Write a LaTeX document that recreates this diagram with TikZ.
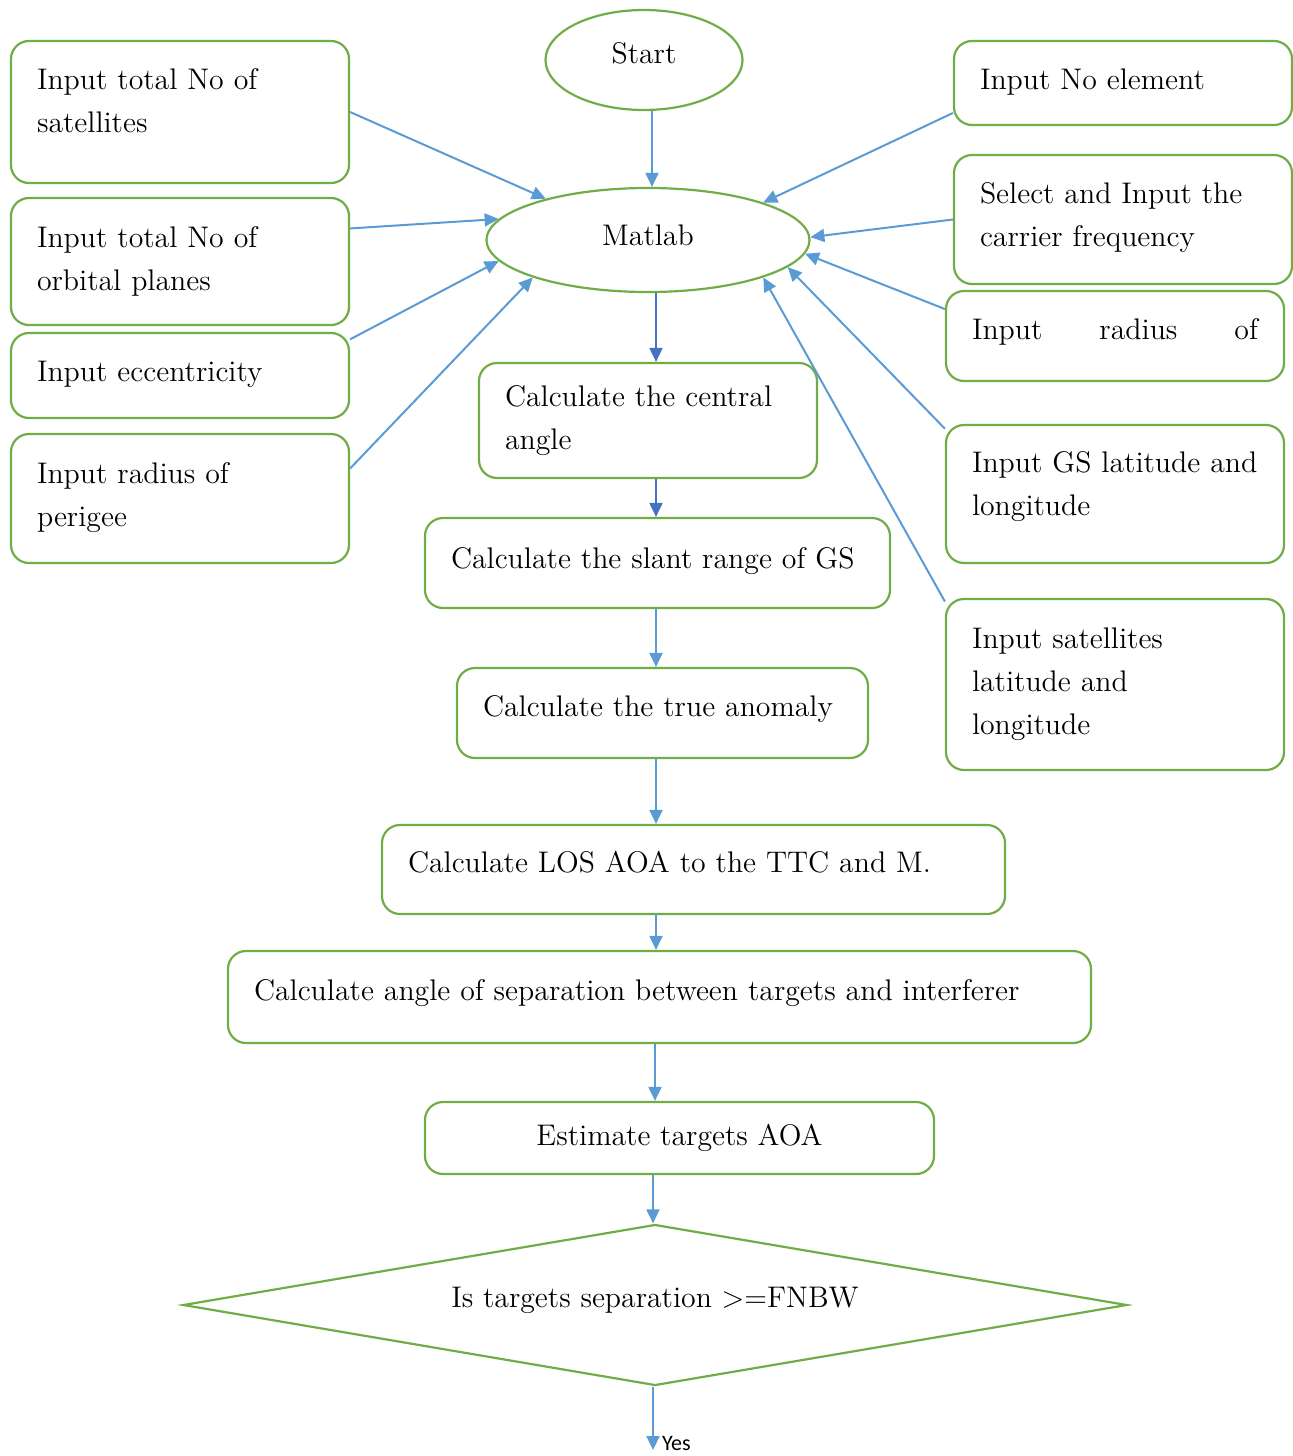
\documentclass[tikz,border=0pt]{standalone}
\usepackage{fontspec}
\newfontfamily\calibrifont{Carlito}
\usetikzlibrary{arrows.meta,shapes.geometric}

\definecolor{boxgreen}{RGB}{112,173,71}
\definecolor{arrowblue}{RGB}{91,155,213}
\definecolor{darkblue}{RGB}{68,114,196}

\begin{document}
\begin{tikzpicture}[
    x=0.5pt, y=-0.5pt,
    font=\fontsize{14.9}{21.5}\selectfont,
    box/.style={draw=boxgreen, line width=1.1pt, rounded corners=9pt,
                align=left, inner xsep=13pt, inner ysep=4pt},
    oval/.style={draw=boxgreen, line width=1.1pt, ellipse, inner sep=0pt, align=center},
    flow/.style={arrowblue, line width=1pt, -{Triangle[width=6.5pt,length=7pt]}},
    ]
\useasboundingbox (0,0) rectangle (1293,1456);
\coordinate (axis) at (656,0);
\coordinate (topaxis) at (652,0);

% ---- ovals ----
\node[oval, minimum width=98.5pt, minimum height=50pt] (start) at (644,60) {Start\\[-15pt]\mbox{}};
\node[oval, minimum width=161.5pt, minimum height=52pt] (matlab) at (648,240) {Matlab\\[-16.5pt]\mbox{}};

% ---- left inputs ----
\node[box, text width=143pt, minimum height=71pt] (nsat) at (180,112)
    {Input total No of\\satellites\\[-10.5pt]\mbox{}};
\node[box, text width=143pt, minimum height=63.5pt] (nplane) at (180,261.5)
    {Input total No of\\orbital planes};
\node[box, text width=143pt, minimum height=42.5pt] (ecc) at (180,375.5)
    {Input eccentricity\\[-17.5pt]\mbox{}};
\node[box, text width=143pt, minimum height=64.5pt] (perl) at (180,498.5)
    {Input radius of\\perigee\\[-18pt]\mbox{}};

% ---- right inputs ----
\node[box, text width=143pt, minimum height=42pt] (nelem) at (1123,83)
    {Input No element\\[-17.5pt]\mbox{}};
\node[box, text width=143pt, minimum height=64.5pt] (freq) at (1123,219.5)
    {Select and Input the\\carrier frequency\\[-17pt]\mbox{}};
\node[box, text width=143pt, minimum height=45pt] (perr) at (1115,336)
    {Input\hfill radius\hfill of\\[-14.5pt]\mbox{}};
\node[box, text width=143pt, minimum height=69pt] (gs) at (1115,494)
    {Input GS latitude and\\longitude\\[-11.5pt]\mbox{}};
\node[box, text width=143pt, minimum height=85.5pt] (satpos) at (1115,684.5)
    {Input satellites\\latitude and\\longitude};

% ---- calculation chain ----
\node[box, text width=143pt, minimum height=57.5pt] (central) at (648,420.5)
    {Calculate the central\\angle};
\node[box, text width=206.5pt, minimum height=45pt] (slant) at (657.5,563)
    {Calculate the slant range of GS\\[-16.5pt]\mbox{}};
\node[box, text width=179.5pt, minimum height=45pt] (anomaly) at (662.5,713)
    {Calculate the true anomaly\\[-14.5pt]\mbox{}};
\node[box, text width=285.5pt, minimum height=44.5pt] (los) at (693.5,869.5)
    {Calculate LOS AOA to the TTC and M.\\[-13.5pt]\mbox{}};
\node[box, text width=405.5pt, minimum height=46pt] (sep) at (659.5,997)
    {Calculate angle of separation between targets and interferer\\[-14.5pt]\mbox{}};
\node[box, align=center, minimum width=254.5pt, minimum height=36pt] (est) at (679.5,1138)
    {Estimate targets AOA};
\node[diamond, draw=boxgreen, line width=1.1pt, aspect=5.86, minimum width=472pt,
      minimum height=80.5pt, inner sep=0pt, align=center] (test) at (655,1305)
    {Is targets separation >=FNBW\\[-14pt]\mbox{}};
\coordinate (yesend) at (653,1450);

% ---- inputs into Matlab ----
\draw[flow] (start.south -| topaxis) -- (matlab.north -| topaxis);
\draw[flow] (nsat.east) -- (matlab.158);
\draw[flow] (nplane.11.5) -- (matlab.172);
\draw[flow] (ecc.12.4) -- (matlab.188);
\draw[flow] (perl.10.1) -- (matlab.198);
\draw[flow] (nelem.190.7) -- (matlab.18);
\draw[flow] (freq.west) -- (matlab.1);
\draw[flow] (perr.171.3) -- (matlab.355);
\draw[flow] (gs.159) -- (matlab.349);
\draw[flow] (satpos.154.8) -- (matlab.342);

% ---- main flow ----
\draw[flow, darkblue] (matlab.south -| axis) -- (central.north -| axis);
\draw[flow, darkblue] (central.south -| axis) -- (slant.north -| axis);
\draw[flow] (slant.south -| axis) -- (anomaly.north -| axis);
\draw[flow] (anomaly.south -| axis) -- (los.north -| axis);
\draw[flow] (los.south -| axis) -- (sep.north -| axis);
\draw[flow] (sep.south -| test.south) -- (est.north -| test.south);
\draw[flow] (est.south -| yesend) -- (test.north -| yesend);
\draw[flow] (test.south -| yesend) -- (yesend)
    node[anchor=west, inner sep=0pt, xshift=4pt, yshift=3pt, text=black,
         font=\calibrifont\fontsize{11}{13}\selectfont] {Yes};
\end{tikzpicture}
\end{document}
